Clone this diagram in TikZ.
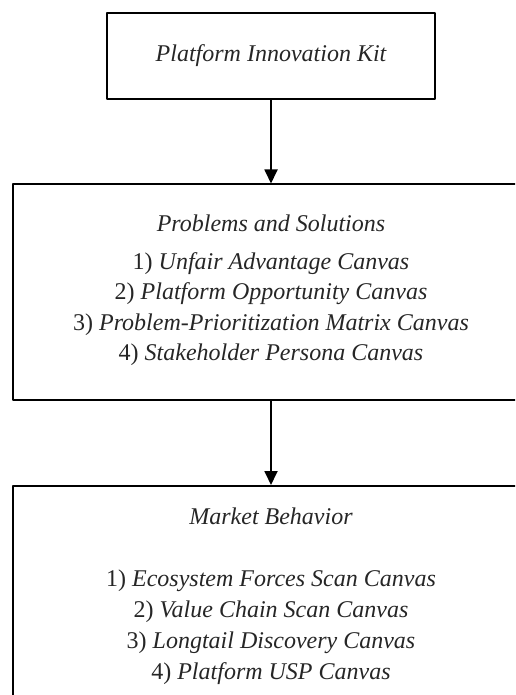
\documentclass[tikz,border=0pt]{standalone}
\usepackage{fontspec}
\setmainfont{Liberation Serif}
\usetikzlibrary{arrows.meta}
\begin{document}
\begin{tikzpicture}[x=0.5pt,y=-0.5pt,line join=round,>={Triangle[width=6.5pt,length=7pt]}]
	\tikzset{box/.style={draw,line width=1pt,inner sep=0pt},
		txt/.style={align=center,font=\fontsize{12}{15.25}\selectfont,text=black!85}}
	\useasboundingbox (0,0) rectangle (515,695);
	\clip (0,0) rectangle (515,695);
	\node[box,minimum width=164pt,minimum height=43pt] (kit) at (271,56) {};
	\node[box,minimum width=258pt,minimum height=107.5pt] (probs) at (271,292) {};
	\node[box,minimum width=258pt,minimum height=127pt] (market) at (271,613) {};
	\draw[->,line width=0.9pt] (kit) -- (probs);
	\draw[->,line width=0.9pt] (probs) -- (market);
	% texts
	\node[txt] (kittitle) at (kit) {\itshape Platform Innovation Kit};
	\node[txt] (probtitle) at (271,223) {\itshape Problems and Solutions};
	\node[txt] (problist) at (271,309) {1) \textit{Unfair Advantage Canvas}\\2) \textit{Platform Opportunity Canvas}\\3) \textit{Problem-Prioritization Matrix Canvas}\\4) \textit{Stakeholder Persona Canvas}};
	\node[txt] (markettitle) at (271,516) {\itshape Market Behavior};
	\node[txt,font=\fontsize{12}{15.5}\selectfont] (marketlist) at (271,627) {1) \textit{Ecosystem Forces Scan Canvas}\\2) \textit{Value Chain Scan Canvas}\\3) \textit{Longtail Discovery Canvas}\\4) \textit{Platform USP Canvas}};
\end{tikzpicture}
\end{document}
